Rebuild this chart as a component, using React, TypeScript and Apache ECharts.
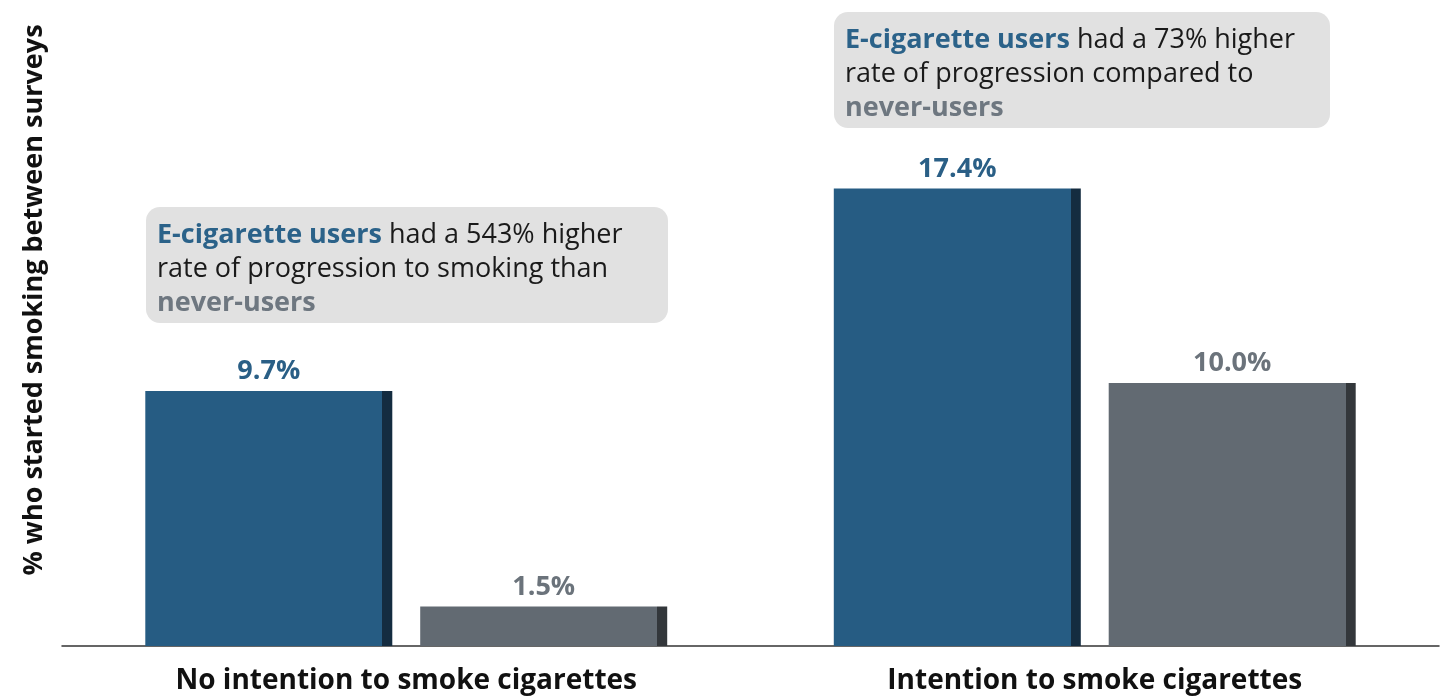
import React, { useEffect, useRef } from "react";
import * as echarts from "echarts";

const categories = ["No intention to smoke cigarettes", "Intention to smoke cigarettes"];
const ecigUsers = [9.7, 17.4];
const neverUsers = [1.5, 10.0];
const yAxisTitle = "% who started smoking between surveys";
const notes = [
  { lead: "E-cigarette users", rest: " had a 543% higher", line2: "rate of progression to smoking than", tail: "never-users" },
  { lead: "E-cigarette users", rest: " had a 73% higher", line2: "rate of progression compared to", tail: "never-users" },
];

const FONT = "'Open Sans', 'Noto Sans', sans-serif";

function edgeFill(main: string, edge: string) {
  return new echarts.graphic.LinearGradient(0, 0, 1, 0, [
    { offset: 0, color: main },
    { offset: 0.96, color: main },
    { offset: 0.96, color: edge },
    { offset: 1, color: edge },
  ]);
}

function noteGraphic(n: typeof notes[0], x: number, y: number, w: number, h: number) {
  return {
    type: "group",
    x,
    y,
    children: [
      { type: "rect", shape: { x: 0, y: 0, width: w, height: h, r: 14 }, style: { fill: "#e1e1e1" } },
      {
        type: "text",
        x: 11,
        y: 8,
        style: {
          text: `{b|${n.lead}}{n|${n.rest}}\n{n|${n.line2}}\n{g|${n.tail}}`,
          rich: {
            b: { fontFamily: FONT, fontSize: 27, fontWeight: 700, fill: "#2b6289", lineHeight: 34 },
            n: { fontFamily: FONT, fontSize: 27, fontWeight: 400, fill: "#1a1a1a", lineHeight: 34 },
            g: { fontFamily: FONT, fontSize: 27, fontWeight: 700, fill: "#6e7780", lineHeight: 34 },
          },
        },
      },
    ],
  };
}

export default function App() {
  const ref = useRef<HTMLDivElement>(null);
  useEffect(() => {
    if (!ref.current) return;
    const chart = echarts.init(ref.current, null, { renderer: "svg" });
    const labelFmt = (p: any) => Number(p.value).toFixed(1) + "%";
    chart.setOption({
      animation: false,
      grid: { left: 62, right: 4, top: 15, bottom: 51 },
      xAxis: {
        type: "category",
        data: categories,
        axisLine: { lineStyle: { color: "#333", width: 1.5 } },
        axisTick: { show: false },
        axisLabel: { color: "#111", fontFamily: FONT, fontSize: 28, fontWeight: 700, margin: 18 },
      },
      yAxis: {
        type: "value",
        min: 0,
        max: 24,
        show: false,
        splitLine: { show: false },
      },
      series: [
        {
          type: "bar",
          name: "E-cigarette users",
          data: ecigUsers,
          barWidth: 247,
          barGap: "11.3%",
          itemStyle: { color: edgeFill("#265c83", "#142c40") },
          label: {
            show: true,
            position: "top",
            distance: 9,
            formatter: labelFmt,
            color: "#2a5f86",
            fontFamily: FONT,
            fontSize: 27,
            fontWeight: 700,
          },
        },
        {
          type: "bar",
          name: "Never-users",
          data: neverUsers,
          barWidth: 247,
          itemStyle: { color: edgeFill("#626a72", "#33373b") },
          label: {
            show: true,
            position: "top",
            distance: 9,
            formatter: labelFmt,
            color: "#6b737b",
            fontFamily: FONT,
            fontSize: 27,
            fontWeight: 700,
          },
        },
      ],
      graphic: [
        {
          type: "text",
          x: 31,
          y: 300,
          rotation: Math.PI / 2,
          style: {
            text: yAxisTitle,
            fontFamily: FONT,
            fontSize: 27,
            fontWeight: 700,
            fill: "#111",
            align: "center",
            verticalAlign: "middle",
          },
        },
        noteGraphic(notes[0], 146, 207, 522, 116),
        noteGraphic(notes[1], 834, 12, 496, 116),
      ],
    });
    return () => chart.dispose();
  }, []);
  return <div ref={ref} style={{ position: "fixed", left: 0, top: 0, width: 1443, height: 697 }} />;
}
